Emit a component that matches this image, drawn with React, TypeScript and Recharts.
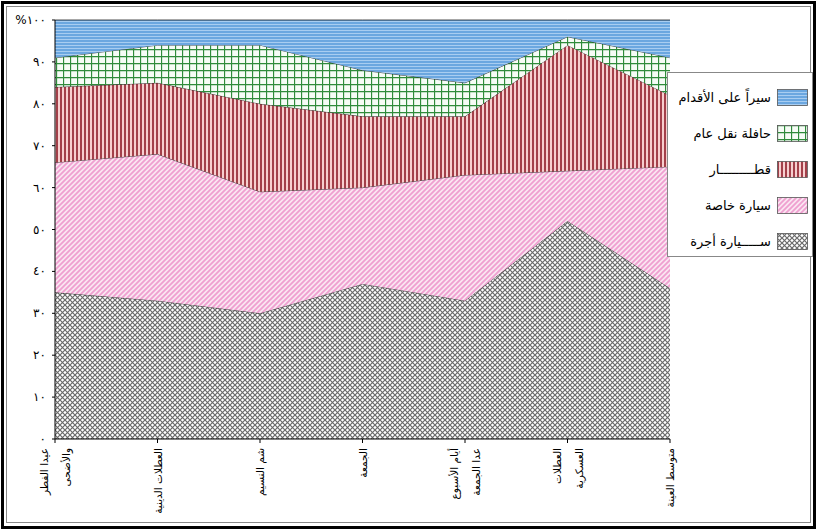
import { AreaChart, Area, XAxis, YAxis } from "recharts"

const categories = [
  "عيدا الفطر|والأضحى",
  "العطلات الدينية",
  "شم النسيم",
  "الجمعة",
  "أيام الأسبوع|عدا الجمعة",
  "العطلات|العسكرية",
  "متوسط العينة",
]

const taxi = [35, 33, 30, 37, 33, 52, 36]
const privateCar = [31, 35, 29, 23, 30, 12, 29]
const train = [18, 17, 21, 17, 14, 30, 17]
const bus = [7, 9, 14, 11, 8, 2, 9]
const walking = [9, 6, 6, 12, 15, 4, 9]

const yTicks = [0, 10, 20, 30, 40, 50, 60, 70, 80, 90, 100]
const yTickLabels = ["٠", "١٠", "٢٠", "٣٠", "٤٠", "٥٠", "٦٠", "٧٠", "٨٠", "٩٠", "%١٠٠"]

const seriesNames = {
  walking: "سيراً على الأقدام",
  bus: "حافلة نقل عام",
  train: "قطـــــــــار",
  privateCar: "سيارة خاصة",
  taxi: "ســـــيارة أجرة",
}

const data = categories.map((name, i) => ({
  name,
  taxi: taxi[i],
  privateCar: privateCar[i],
  train: train[i],
  bus: bus[i],
  walking: walking[i],
}))

const FONT = "'DejaVu Sans', sans-serif"

// hatch patterns, prefix lets the legend swatches have their own copies
function Patterns({ prefix }: { prefix: string }) {
  return (
    <defs>
      <pattern id={`${prefix}taxi`} width="5" height="5" patternUnits="userSpaceOnUse">
        <rect width="5" height="5" fill="#ffffff" />
        <path d="M0,0 L5,5 M5,0 L0,5" stroke="#6a6a6a" strokeWidth="1.2" />
      </pattern>
      <pattern id={`${prefix}private`} width="5" height="5" patternUnits="userSpaceOnUse">
        <rect width="5" height="5" fill="#fbe6f2" />
        <path d="M-1,1 L1,-1 M0,5 L5,0 M4,6 L6,4" stroke="#ef9fd0" strokeWidth="1.8" />
      </pattern>
      <pattern id={`${prefix}train`} width="4" height="4" patternUnits="userSpaceOnUse">
        <rect width="4" height="4" fill="#f7cfcf" />
        <rect width="2" height="4" fill="#a3404a" />
      </pattern>
      <pattern id={`${prefix}bus`} width="7" height="7" patternUnits="userSpaceOnUse">
        <rect width="7" height="7" fill="#f6fcf6" />
        <path d="M0.5,0 L0.5,7 M0,0.5 L7,0.5" stroke="#2f8b3b" strokeWidth="1.3" />
      </pattern>
      <pattern id={`${prefix}walking`} width="4" height="3" patternUnits="userSpaceOnUse">
        <rect width="4" height="3" fill="#6ba7e0" />
        <rect width="4" height="1" fill="#a8cdf1" />
      </pattern>
    </defs>
  )
}

function XTick(props: any) {
  const { x, y, payload } = props
  const lines = String(payload.value).split("|")
  const gap = 22
  return (
    <g transform={`translate(${x},${y + 3}) rotate(-90)`}>
      <text textAnchor="end" fontFamily={FONT} fontSize={10.5} fill="#000">
        {lines.map((l, i) => (
          <tspan key={i} x={0} y={(i - (lines.length - 1) / 2) * gap + 4}>
            {l}
          </tspan>
        ))}
      </text>
    </g>
  )
}

function YTick(props: any) {
  const { x, y, payload } = props
  const idx = yTicks.indexOf(payload.value)
  return (
    <text x={x - 4} y={y + 4} textAnchor="end" fontFamily={FONT} fontSize={12} fill="#000" direction="ltr">
      {yTickLabels[idx]}
    </text>
  )
}

const legendItems = [
  { key: "walking", label: seriesNames.walking },
  { key: "bus", label: seriesNames.bus },
  { key: "train", label: seriesNames.train },
  { key: "private", label: seriesNames.privateCar },
  { key: "taxi", label: seriesNames.taxi },
]

export default function App() {
  return (
    <div style={{ position: "absolute", left: 0, top: 0, width: 817, height: 530, background: "#fff" }}>
      <div style={{ position: "absolute", left: 1, top: 1, width: 809, height: 522, border: "3px solid #000" }} />
      <div style={{ position: "absolute", left: 6, top: 6, width: 803, height: 515, border: "1px solid #888" }} />
      <div style={{ position: "absolute", left: 0, top: 0 }}>
        <AreaChart width={817} height={530} data={data} margin={{ top: 20, right: 147, bottom: 6, left: 8 }}>
          <Patterns prefix="p-" />
          <XAxis
            dataKey="name"
            interval={0}
            height={85}
            axisLine={{ stroke: "#000" }}
            tickLine={{ stroke: "#000" }}
            tickSize={4}
            tick={<XTick />}
          />
          <XAxis xAxisId="top" orientation="top" dataKey="name" height={0} tick={false} tickLine={false} axisLine={{ stroke: "#777" }} />
          <YAxis
            domain={[0, 100]}
            ticks={yTicks}
            width={47}
            interval={0}
            axisLine={{ stroke: "#000" }}
            tickLine={{ stroke: "#000" }}
            tickSize={3}
            tick={<YTick />}
          />
          <YAxis yAxisId="right" orientation="right" domain={[0, 100]} width={0} tick={false} tickLine={false} axisLine={{ stroke: "#555" }} />
          <Area type="linear" dataKey="taxi" stackId="a" stroke="#222" strokeWidth={0.8} fill="url(#p-taxi)" fillOpacity={1} isAnimationActive={false} />
          <Area type="linear" dataKey="privateCar" stackId="a" stroke="#222" strokeWidth={0.8} fill="url(#p-private)" fillOpacity={1} isAnimationActive={false} />
          <Area type="linear" dataKey="train" stackId="a" stroke="#222" strokeWidth={0.8} fill="url(#p-train)" fillOpacity={1} isAnimationActive={false} />
          <Area type="linear" dataKey="bus" stackId="a" stroke="#222" strokeWidth={0.8} fill="url(#p-bus)" fillOpacity={1} isAnimationActive={false} />
          <Area type="linear" dataKey="walking" stackId="a" stroke="#222" strokeWidth={0.8} fill="url(#p-walking)" fillOpacity={1} isAnimationActive={false} />
        </AreaChart>
      </div>
      <div
        style={{
          position: "absolute",
          left: 667,
          top: 72,
          width: 144,
          height: 183,
          border: "1px solid #888",
          background: "#fff",
          fontFamily: FONT,
          fontSize: 13,
        }}
      >
        {legendItems.map((it, i) => (
          <div key={it.key} style={{ position: "absolute", right: 4, top: 16 + i * 36, height: 17, display: "flex", alignItems: "center" }}>
            <span style={{ direction: "rtl", marginRight: 6, whiteSpace: "nowrap" }}>{it.label}</span>
            <svg width={31} height={17}>
              <Patterns prefix={`lg${i}-`} />
              <rect x={0.5} y={0.5} width={30} height={16} fill={`url(#lg${i}-${it.key})`} stroke="#555" strokeWidth={0.8} />
            </svg>
          </div>
        ))}
      </div>
    </div>
  )
}
